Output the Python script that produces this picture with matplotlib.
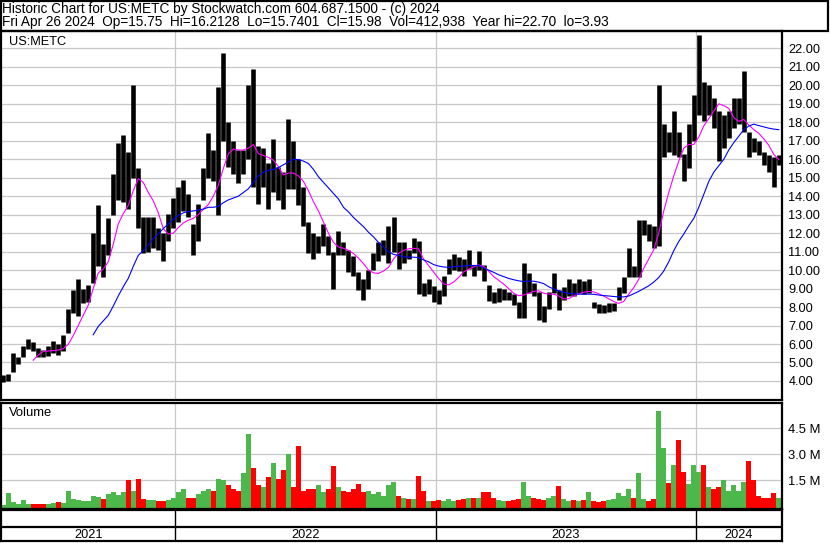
import numpy as np
import pandas as pd
import matplotlib
matplotlib.use('Agg')
import matplotlib.pyplot as plt
from matplotlib.patches import Rectangle

plt.rcParams['font.family'] = ['Liberation Sans', 'DejaVu Sans']

nan = np.nan

# weekly price ranges, week ending Fri 2021-05-07 .. 2024-04-26
hi = [4.3, 4.4, 5.5, 5.3, 5.9, 6.25, 6.1, 5.8, 5.7, 5.9,
      6.15, 6.0, 6.5, 7.9, 8.9, 9.5, 9.0, 9.2, 12.0, 13.5,
      11.4, 12.8, 15.2, 16.9, 17.3, 16.4, 20.0, 15.5, 12.9, 12.9,
      12.9, 12.3, 12.0, 13.05, 13.9, 14.5, 14.9, 14.1, 12.5, 13.6,
      15.5, 17.4, 16.5, 19.9, 21.75, 18.0, 17.0, 16.5, 16.5, 20.0,
      20.9, 16.7, 16.6, 15.8, 17.1, 15.6, 15.3, 18.2, 17.0, 16.0,
      14.5, 12.6, 12.0, 11.85, 12.5, 11.85, 11.0, 12.1, 11.5, 11.1,
      10.75, 9.9, 9.5, 10.0, 10.9, 11.5, 11.65, 12.4, 12.9, 11.5,
      11.5, 11.1, 11.75, 11.6, 9.3, 9.5, 9.15, 8.9, 9.7, 10.6,
      10.85, 10.7, 10.6, 11.1, 10.3, 11.05, 10.3, 9.2, 8.8, 9.05,
      9.0, 8.8, 8.7, 8.3, 10.4, 9.85, 9.3, 8.8, 8.05, 8.8,
      9.85, 8.95, 9.1, 9.5, 9.3, 9.5, 9.4, 9.5, 8.3, 8.15,
      8.1, 8.2, 8.2, 9.1, 9.65, 11.2, 10.2, 12.7, 12.7, 12.5,
      12.4, 20.0, 17.9, 17.5, 18.6, 17.5, 16.3, 17.9, 19.5, 22.7,
      20.2, 20.0, 19.3, 18.6, 18.4, 18.6, 19.3, 19.3, 20.8, 17.5,
      17.15, 17.0, 16.4, 16.25, 16.1, 16.25]
lo = [3.93, 4.0, 4.5, 4.9, 5.3, 5.75, 5.6, 5.3, 5.3, 5.35,
      5.5, 5.4, 5.6, 6.6, 7.7, 7.5, 8.2, 8.3, 9.3, 10.2,
      9.6, 10.8, 13.0, 13.8, 13.7, 13.3, 15.0, 12.3, 10.9, 11.0,
      11.2, 11.1, 10.5, 11.6, 12.3, 12.6, 13.2, 12.9, 10.8, 11.6,
      13.8, 15.0, 14.8, 13.0, 17.0, 15.6, 15.2, 14.7, 15.2, 16.0,
      14.5, 13.6, 14.5, 13.3, 14.2, 13.8, 13.3, 14.4, 14.4, 13.5,
      12.4, 10.95, 10.6, 10.95, 11.3, 10.8, 9.0, 10.8, 10.8, 9.9,
      9.7, 8.9, 8.4, 9.0, 10.0, 10.5, 10.8, 10.4, 11.0, 10.05,
      10.4, 10.6, 10.95, 8.7, 8.6, 8.7, 8.3, 8.15, 8.6, 9.8,
      10.0, 9.95, 9.7, 10.05, 9.7, 10.0, 9.4, 8.35, 8.2, 8.3,
      8.4, 8.4, 8.1, 7.4, 7.4, 8.75, 8.6, 7.3, 7.2, 7.9,
      8.75, 7.85, 8.4, 8.6, 8.6, 8.75, 8.7, 8.75, 7.95, 7.7,
      7.7, 7.75, 7.8, 8.4, 8.75, 9.65, 9.65, 9.6, 11.9, 11.6,
      11.2, 11.3, 16.1, 16.4, 16.25, 16.1, 14.8, 15.5, 17.0, 18.4,
      18.05, 18.4, 17.7, 15.9, 16.6, 17.15, 17.7, 17.9, 17.5, 16.1,
      16.4, 16.25, 15.7, 15.3, 14.5, 15.7]

# moving averages (magenta short, blue long)
ma_short = [nan] * 6 + [5.12, 5.4, 5.6, 5.62,
            5.65, 5.67, 5.75, 5.98, 6.45, 7.0, 7.55, 8.1, 9.0, 9.85,
            10.05, 10.45, 11.4, 12.5, 13.05, 13.5, 14.3, 14.95, 14.75, 14.2,
            13.75, 13.1, 12.25, 11.95, 12.0, 12.3, 12.55, 12.7, 12.8, 13.0,
            13.3, 13.55, 14.0, 14.6, 15.5, 16.3, 16.55, 16.5, 16.5, 16.6,
            16.8, 16.3, 16.2, 16.1, 15.95, 15.6, 15.15, 15.25, 15.25, 15.1,
            14.8, 14.3, 13.7, 13.2, 12.6, 12.0, 11.5, 11.25, 11.18, 11.07,
            10.9, 10.65, 10.35, 10.0, 9.85, 9.82, 9.95, 10.15, 10.6, 10.9,
            11.07, 11.15, 11.18, 11.15, 10.6, 10.25, 9.9, 9.55, 9.25, 9.2,
            9.35, 9.6, 9.9, 10.05, 10.17, 10.28, 10.2, 9.95, 9.65, 9.45,
            9.25, 9.0, 8.75, 8.62, 8.65, 8.75, 8.85, 8.88, 8.75, 8.7,
            8.7, 8.6, 8.45, 8.45, 8.6, 8.72, 8.8, 8.85, 8.82, 8.72,
            8.6, 8.45, 8.3, 8.2, 8.3, 8.7, 9.05, 9.5, 10.1, 10.6,
            11.1, 12.0, 13.2, 14.2, 15.1, 15.9, 16.6, 16.8, 16.8, 17.2,
            17.8, 18.2, 18.6, 19.0, 18.9, 18.75, 18.25, 18.05, 18.15, 17.85,
            17.6, 17.4, 17.1, 16.75, 16.25, 15.98]
ma_long = [nan] * 18 + [6.5, 6.95,
           7.25, 7.55, 8.05, 8.6, 9.1, 9.55, 10.2, 10.8, 11.05, 11.35,
           11.7, 11.95, 12.25, 12.5, 12.75, 12.95, 13.1, 13.17, 13.2, 13.25,
           13.3, 13.4, 13.4, 13.45, 13.65, 13.8, 13.9, 14.0, 14.2, 14.4,
           14.75, 15.1, 15.3, 15.4, 15.45, 15.55, 15.7, 15.85, 16.0, 15.98,
           15.9, 15.77, 15.45, 15.05, 14.75, 14.45, 14.15, 13.85, 13.4, 13.15,
           12.85, 12.6, 12.35, 12.05, 11.8, 11.5, 11.25, 11.0, 10.85, 10.8,
           10.72, 10.7, 10.7, 10.68, 10.55, 10.45, 10.3, 10.22, 10.17, 10.15,
           10.18, 10.2, 10.22, 10.25, 10.25, 10.25, 10.12, 10.0, 9.88, 9.75,
           9.65, 9.55, 9.48, 9.42, 9.38, 9.4, 9.4, 9.35, 9.27, 9.1,
           8.98, 8.88, 8.8, 8.74, 8.72, 8.7, 8.7, 8.7, 8.69, 8.65,
           8.62, 8.6, 8.57, 8.55, 8.55, 8.6, 8.72, 8.85, 9.0, 9.15,
           9.35, 9.6, 9.95, 10.45, 11.05, 11.55, 11.95, 12.4, 12.8, 13.4,
           14.1, 14.8, 15.3, 15.65, 16.0, 16.5, 16.9, 17.25, 17.6, 17.8,
           17.9, 17.82, 17.75, 17.68, 17.63, 17.6]

# volume, millions of shares
vol = [0.1, 0.75, 0.25, 0.15, 0.35, 0.15, 0.15, 0.15, 0.12, 0.12,
       0.2, 0.25, 0.2, 0.9, 0.4, 0.35, 0.3, 0.3, 0.6, 0.55,
       0.4, 0.7, 0.8, 0.65, 0.8, 1.5, 0.9, 1.6, 0.4, 0.35,
       0.35, 0.3, 0.3, 0.35, 0.45, 0.85, 1.0, 0.5, 0.5, 0.7,
       0.9, 1.0, 0.9, 1.6, 1.5, 1.2, 1.0, 0.9, 1.9, 4.2,
       2.2, 1.2, 1.1, 1.7, 2.5, 1.6, 2.1, 3.0, 1.1, 3.5,
       0.9, 1.0, 1.0, 1.2, 0.8, 1.0, 2.3, 1.1, 0.9, 0.8,
       1.0, 1.3, 0.8, 0.9, 0.7, 0.8, 0.6, 1.2, 1.4, 0.6,
       0.5, 0.4, 0.4, 1.75, 0.9, 0.3, 0.3, 0.35, 0.3, 0.4,
       0.3, 0.35, 0.4, 0.5, 0.45, 0.5, 0.8, 0.8, 0.5, 0.35,
       0.3, 0.3, 0.35, 0.4, 1.4, 0.6, 0.45, 0.4, 0.35, 0.45,
       0.6, 1.15, 0.4, 0.3, 0.35, 0.3, 0.35, 0.85, 0.3, 0.25,
       0.3, 0.35, 0.4, 0.75, 0.6, 1.0, 0.5, 1.9, 0.4, 0.3,
       0.4, 5.5, 3.35, 1.35, 2.4, 3.85, 2.0, 1.3, 2.4, 1.95,
       2.4, 1.1, 1.0, 1.1, 1.5, 0.9, 1.25, 0.9, 1.4, 2.6,
       1.5, 0.6, 0.5, 0.5, 0.75, 0.45]

dates = pd.date_range('2021-05-07', periods=len(hi), freq='7D')
year_starts = pd.to_datetime(['2022-01-03', '2023-01-02', '2024-01-01'])
year_labels = ['2021', '2022', '2023', '2024']
price_ticks = list(range(4, 23))
vol_ticks = [1.5, 3.0, 4.5]

title1 = 'Historic Chart for US:METC by Stockwatch.com 604.687.1500 - (c) 2024'
title2 = ('Fri Apr 26 2024  Op=15.75  Hi=16.2128  Lo=15.7401  Cl=15.98  '
          'Vol=412,938  Year hi=22.70  lo=3.93')

W, H = 830, 543
x0 = pd.Timestamp('2021-05-04')
x1 = x0 + pd.Timedelta(days=1092.4)
grid_c = '#c8c8c8'
green = '#4cb84c'
red = '#ff0000'

fig = plt.figure(figsize=(W / 100, H / 100), dpi=100)


def fax(l, t, r, b):
    return fig.add_axes([l / W, 1 - b / H, (r - l) / W, (b - t) / H])


ax_p = fax(1, 31, 782, 400)
ax_v = fax(1, 403, 782, 509)
ax_y = fax(1, 510, 782, 541)

for ax in (ax_p, ax_v, ax_y):
    ax.set_xlim(x0, x1)
    ax.set_xticks([])
    for s in ax.spines.values():
        s.set_linewidth(1.6)
        s.set_color('black')
    for d in year_starts:
        ax.axvline(d, color=grid_c if ax is not ax_y else 'black',
                   lw=0.9 if ax is not ax_y else 1.0, zorder=0)

# price panel
ax_p.set_ylim(2.97, 22.94)
ax_p.yaxis.tick_right()
ax_p.set_yticks(price_ticks)
ax_p.set_yticklabels([f'{v:.2f}' for v in price_ticks])
ax_p.tick_params(axis='y', length=0, pad=4.5, labelsize=9.2)
ax_p.grid(axis='y', color=grid_c, lw=0.9, zorder=0)
ax_p.vlines(dates, lo, hi, color='black', lw=3.3, zorder=2)
ax_p.plot(dates, ma_short, color='#ff00ff', lw=0.8, zorder=3)
ax_p.plot(dates, ma_long, color='#0000ff', lw=0.8, zorder=3)
ax_p.text(8 / 781, 1 - 11 / 369, 'US:METC', transform=ax_p.transAxes,
          fontsize=9.2, va='center', ha='left')

# volume panel
mid = (np.array(hi) + np.array(lo)) / 2
up = np.concatenate([[True], mid[1:] >= mid[:-1]])
vbot = -0.156
ax_v.set_ylim(vbot, 5.96)
ax_v.bar(dates, np.array(vol) - vbot, bottom=vbot, width=6.6,
         color=[green if u else red for u in up], zorder=2)
ax_v.yaxis.tick_right()
ax_v.set_yticks(vol_ticks)
ax_v.set_yticklabels([f'{v:.1f} M' for v in vol_ticks])
ax_v.tick_params(axis='y', length=0, pad=4.5, labelsize=9.4)
ax_v.grid(axis='y', color=grid_c, lw=0.9, zorder=0)
ax_v.text(8 / 781, 1 - 10 / 106, 'Volume', transform=ax_v.transAxes,
          fontsize=9.4, va='center', ha='left')

# year band
ax_y.set_ylim(0, 1)
ax_y.set_yticks([])
ax_y.axhline(14 / 31, color='black', lw=1.6)
edges = [x0] + list(year_starts) + [dates[-1] + pd.Timedelta(days=3)]
for a, b, lab in zip(edges[:-1], edges[1:], year_labels):
    ax_y.text(a + (b - a) / 2, 6.5 / 31, lab, ha='center', va='center',
              fontsize=9.2)

# title box
fig.add_artist(Rectangle((1 / W, 1 - 31 / H), 827 / W, 30 / H,
                         transform=fig.transFigure, fill=False,
                         lw=1.6, ec='black'))
fig.text(2 / W, 1 - 8.5 / H, title1, fontsize=9.8, va='center', ha='left')
fig.text(2 / W, 1 - 22 / H, title2, fontsize=9.8, va='center', ha='left')

fig.savefig('out.png', dpi=100)
